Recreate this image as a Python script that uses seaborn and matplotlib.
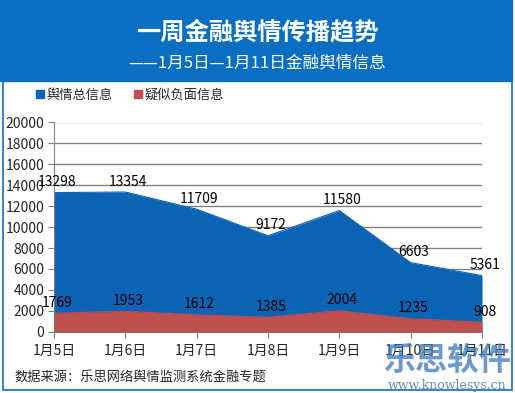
import numpy as np
import matplotlib
matplotlib.use("Agg")
import matplotlib.pyplot as plt
import seaborn as sns
import pandas as pd
from matplotlib.patches import Rectangle, Patch

# data
dates = ["1月5日", "1月6日", "1月7日", "1月8日", "1月9日", "1月10日", "1月11日"]
total_info = [13298, 13354, 11709, 9172, 11580, 6603, 5361]
negative_info = [1769, 1953, 1612, 1385, 2004, 1235, 908]

title = "一周金融舆情传播趋势"
subtitle = "——1月5日—1月11日金融舆情信息"
source = "数据来源：乐思网络舆情监测系统金融专题"

banner_blue = "#0A6FC2"
area_blue = "#0B63B5"
area_red = "#C0504D"

sns.set_style("white")
plt.rcParams['font.family'] = ['Noto Sans CJK SC', 'DejaVu Sans']

df = pd.DataFrame({"date": dates, "total": total_info, "neg": negative_info})
df["x"] = np.arange(len(df))

W, H = 515, 393
fig = plt.figure(figsize=(W / 100, H / 100), dpi=100)

# banner + border
fig.patches.append(Rectangle((0, 1 - 81 / H), 512 / W, 81 / H, transform=fig.transFigure,
                             color=banner_blue, zorder=0))
fig.patches.append(Rectangle((3 / W, 3 / H), 509 / W, (H - 6) / H, transform=fig.transFigure,
                             fill=False, edgecolor=banner_blue, lw=1.2, zorder=0))
fig.text(257 / W, 1 - 32 / H, title, color="white", fontsize=17.5, fontweight="bold",
         ha="center", va="center")
fig.text(257 / W, 1 - 63 / H, subtitle, color="white", fontsize=12, ha="center", va="center")

ax = fig.add_axes([54 / W, 1 - 331.7 / H, (482 - 54) / W, (331.7 - 122.5) / H])

ax.fill_between(df["x"], 0, df["total"], color=area_blue, lw=0, zorder=2)
ax.fill_between(df["x"], 0, df["neg"], color=area_red, lw=0, zorder=3)
sns.lineplot(data=df, x="x", y="total", ax=ax, color=area_blue, lw=0.8, zorder=2)
sns.lineplot(data=df, x="x", y="neg", ax=ax, color=area_red, lw=0.8, zorder=3)

for xi, v in zip(df["x"], df["total"]):
    ax.annotate(str(v), (xi, v), xytext=(2, 2.5), textcoords="offset points",
                ha="center", va="bottom", fontsize=10, color="black", zorder=5)
for xi, v in zip(df["x"], df["neg"]):
    ax.annotate(str(v), (xi, v), xytext=(2, 2.5), textcoords="offset points",
                ha="center", va="bottom", fontsize=10, color="black", zorder=5)

ax.set_xlim(0, len(dates) - 1)
ax.set_ylim(0, 20000)
ax.set_yticks(np.arange(0, 20001, 2000))
ax.set_xticks(df["x"])
ax.set_xticklabels(dates)
ax.set_xlabel("")
ax.set_ylabel("")
ax.grid(axis="y", color="#808080", lw=1.0, zorder=1)
ax.set_axisbelow(True)
for s in ["top", "right"]:
    ax.spines[s].set_visible(False)
ax.spines["left"].set_color("#808080")
ax.spines["bottom"].set_color("#808080")
ax.tick_params(axis="both", which="both", length=4, color="#808080", labelsize=10,
               direction="out", bottom=True, left=True, pad=3)
ax.tick_params(axis="x", pad=5)

handles = [Patch(color=area_blue), Patch(color=area_red)]
fig.legend(handles, ["舆情总信息", "疑似负面信息"], loc="center left",
           bbox_to_anchor=(24 / W, 1 - 95 / H), ncol=2, frameon=False, fontsize=9.5,
           handlelength=0.6, handleheight=0.6, handletextpad=0.2, columnspacing=1.6)

fig.text(14 / W, 1 - 378 / H, source, fontsize=9.5, ha="left", va="center")

# watermark
fig.text(447 / W, 1 - 361 / H, "乐思软件", fontsize=23, fontweight="bold",
         color="#3A77C2", alpha=0.75, ha="center", va="center", zorder=10)
fig.text(447 / W, 1 - 385 / H, "www.knowlesys.cn", fontsize=9, family="DejaVu Serif",
         color="#4A6F9A", alpha=0.8, ha="center", va="center", zorder=10)

fig.savefig("out.png", dpi=100)
